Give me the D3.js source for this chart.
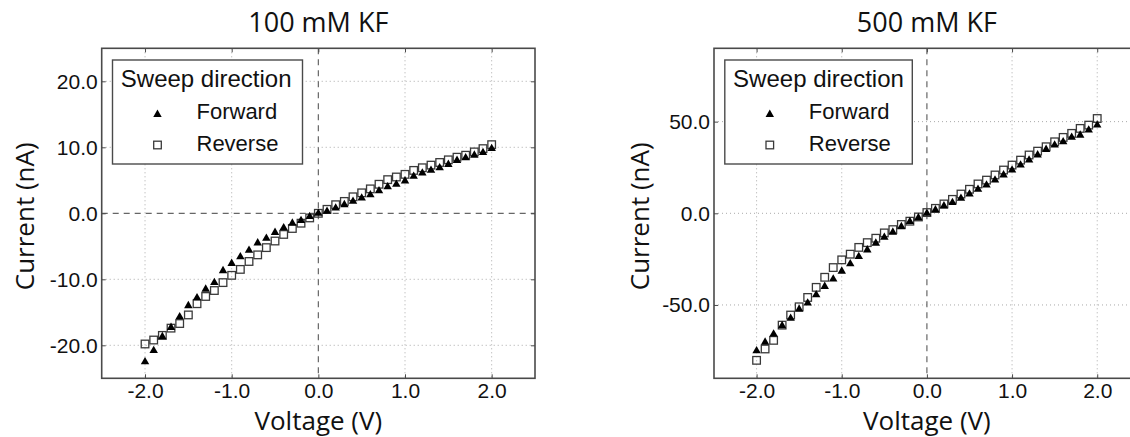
<!DOCTYPE html>
<html>
<head>
<meta charset="utf-8">
<script src="https://cdn.jsdelivr.net/npm/d3@7"></script>
<style>
  html, body { margin: 0; padding: 0; background: #fff; }
  svg { display: block; }
</style>
</head>
<body>
<svg id="chart" width="1130" height="437"></svg>
<script>
// Sweep voltages (V)
const voltage = [-2.0,-1.9,-1.8,-1.7,-1.6,-1.5,-1.4,-1.3,-1.2,-1.1,-1.0,-0.9,-0.8,-0.7,-0.6,-0.5,-0.4,-0.3,-0.2,-0.1,
                 0.0,0.1,0.2,0.3,0.4,0.5,0.6,0.7,0.8,0.9,1.0,1.1,1.2,1.3,1.4,1.5,1.6,1.7,1.8,1.9,2.0];

// 100 mM KF current (nA)
const forward100 = [-22.5,-20.8,-18.7,-17.3,-15.7,-14.0,-12.8,-11.5,-10.5,-8.7,-7.6,-6.6,-5.6,-4.5,-3.8,-2.9,-2.2,-1.5,-1.1,-0.5,
                    0.0,0.3,0.8,1.3,1.8,2.3,2.8,3.4,4.0,4.4,4.9,5.6,6.1,6.5,6.9,7.4,8.0,8.4,8.8,9.2,9.8];
const reverse100 = [-19.8,-19.2,-18.5,-17.4,-16.7,-15.4,-13.7,-12.6,-11.7,-10.5,-9.4,-8.5,-7.3,-6.3,-5.2,-4.2,-3.2,-2.3,-1.5,-0.7,
                    0.0,0.6,1.3,1.8,2.5,3.1,3.7,4.4,5.1,5.5,5.9,6.5,6.9,7.3,7.7,8.1,8.5,8.8,9.3,9.8,10.4];

// 500 mM KF current (nA)
const forward500 = [-75.0,-70.3,-65.9,-61.3,-57.3,-52.3,-49.0,-44.5,-39.9,-35.9,-31.6,-27.6,-23.6,-20.0,-16.3,-13.1,-10.3,-7.3,-4.5,-2.4,
                    0.0,1.8,4.0,5.8,8.2,10.5,13.1,15.4,18.1,20.9,23.6,26.3,29.0,31.8,34.8,37.2,39.0,41.4,42.6,45.4,48.1];
const reverse500 = [-80.2,-74.0,-69.3,-61.0,-55.5,-51.0,-45.9,-40.4,-34.9,-29.6,-25.4,-22.3,-18.6,-16.0,-13.6,-10.7,-8.9,-6.1,-4.3,-2.0,
                    0.4,2.7,5.1,7.6,10.5,13.1,16.0,18.1,20.9,23.6,26.3,29.0,31.8,33.9,36.3,39.0,41.4,43.6,46.3,48.1,51.7];

// Axis ticks
const xTicks = [-2.0, -1.0, 0.0, 1.0, 2.0];
const yTicks100 = [-20.0, -10.0, 0.0, 10.0, 20.0];
const yTicks500 = [-50.0, 0.0, 50.0];

const titles = ["100 mM KF", "500 mM KF"];
const legendTitle = "Sweep direction";
const seriesNames = ["Forward", "Reverse"];

const svg = d3.select("#chart");
const fmt = d => d.toFixed(1);
const TICK_FONT = "'Liberation Sans', Arial, sans-serif";
const LABEL_FONT = "'Open Sans', 'Noto Sans', sans-serif";
const FRAME = "#4a4a4a";

function panel(cfg) {
  const x = d3.scaleLinear().domain([-2.5, 2.5]).range([cfg.left, cfg.right]);
  const y = d3.scaleLinear().domain(cfg.yDomain).range([cfg.bottom, cfg.top]);
  const g = svg.append("g");

  // grid
  const grid = g.append("g");
  grid.selectAll("line.gx").data(xTicks.filter(t => t !== 0)).join("line")
    .attr("x1", d => x(d)).attr("x2", d => x(d))
    .attr("y1", cfg.top).attr("y2", cfg.bottom)
    .attr("stroke", "#aaa").attr("stroke-width", 1).attr("stroke-dasharray", "1,3");
  grid.selectAll("line.gy").data(cfg.yTicks.filter(t => t !== 0 || !cfg.dashedY0)).join("line")
    .attr("x1", cfg.left).attr("x2", cfg.right)
    .attr("y1", d => y(d)).attr("y2", d => y(d))
    .attr("stroke", "#aaa").attr("stroke-width", 1).attr("stroke-dasharray", "1,3");

  // zero reference lines
  g.append("line")
    .attr("x1", x(0)).attr("x2", x(0)).attr("y1", cfg.top).attr("y2", cfg.bottom)
    .attr("stroke", "#666").attr("stroke-width", 1.2).attr("stroke-dasharray", "6,5");
  if (cfg.dashedY0) {
    g.append("line")
      .attr("x1", cfg.left).attr("x2", cfg.right).attr("y1", y(0)).attr("y2", y(0))
      .attr("stroke", "#666").attr("stroke-width", 1.2).attr("stroke-dasharray", "6,5");
  }

  // axes with inward ticks
  const styleAxis = sel => {
    sel.select(".domain").remove();
    sel.selectAll(".tick line").attr("stroke", FRAME).attr("stroke-width", 1);
    sel.selectAll(".tick text").attr("fill", "#111")
      .style("font-family", TICK_FONT).style("font-size", "21px");
  };
  g.append("g").attr("transform", `translate(0,${cfg.bottom})`)
    .call(d3.axisBottom(x).tickValues(xTicks).tickFormat(fmt).tickSizeInner(-4).tickSizeOuter(0).tickPadding(5))
    .call(styleAxis);
  g.append("g").attr("transform", `translate(0,${cfg.top})`)
    .call(d3.axisTop(x).tickValues(xTicks).tickFormat("").tickSizeInner(-4).tickSizeOuter(0))
    .call(styleAxis);
  g.append("g").attr("transform", `translate(${cfg.left},0)`)
    .call(d3.axisLeft(y).tickValues(cfg.yTicks).tickFormat(fmt).tickSizeInner(-4).tickSizeOuter(0).tickPadding(4))
    .call(styleAxis);
  g.append("g").attr("transform", `translate(${cfg.right},0)`)
    .call(d3.axisRight(y).tickValues(cfg.yTicks).tickFormat("").tickSizeInner(-4).tickSizeOuter(0))
    .call(styleAxis);

  // frame
  g.append("rect")
    .attr("x", cfg.left).attr("y", cfg.top)
    .attr("width", cfg.right - cfg.left).attr("height", cfg.bottom - cfg.top)
    .attr("fill", "none").attr("stroke", FRAME).attr("stroke-width", 1.6);

  // data: reverse (open squares), forward (filled triangles)
  const sq = 7.6;
  g.append("g").selectAll("rect").data(voltage.map((v, i) => [v, cfg.rev[i]])).join("rect")
    .attr("x", d => x(d[0]) - sq / 2).attr("y", d => y(d[1]) - sq / 2)
    .attr("width", sq).attr("height", sq)
    .attr("fill", "none").attr("stroke", "#3a3a3a").attr("stroke-width", 1.3);
  const tri = d3.symbol(d3.symbolTriangle, 31);
  g.append("g").selectAll("path").data(voltage.map((v, i) => [v, cfg.fwd[i]])).join("path")
    .attr("d", tri)
    .attr("transform", d => `translate(${x(d[0])},${y(d[1])})`)
    .attr("fill", "#000");

  // legend
  const lx = cfg.left + 10.8, ly = 60;
  const lg = g.append("g");
  lg.append("rect").attr("x", lx).attr("y", ly).attr("width", cfg.legendW).attr("height", 104)
    .attr("fill", "#fff").attr("stroke", FRAME).attr("stroke-width", 1.4);
  lg.append("text").attr("x", lx + 8.3).attr("y", ly + 26.5)
    .style("font-family", TICK_FONT).style("font-size", "24px").attr("fill", "#111")
    .text(legendTitle);
  lg.append("path").attr("d", tri).attr("transform", `translate(${lx + 45},${ly + 54.5})`).attr("fill", "#000");
  lg.append("rect").attr("x", lx + 45 - sq / 2).attr("y", ly + 85 - sq / 2).attr("width", sq).attr("height", sq)
    .attr("fill", "none").attr("stroke", "#3a3a3a").attr("stroke-width", 1.3);
  lg.selectAll("text.entry").data(seriesNames).join("text")
    .attr("x", lx + 84).attr("y", (d, i) => ly + 59 + i * 31.5)
    .style("font-family", TICK_FONT).style("font-size", "22px").attr("fill", "#111")
    .text(d => d);

  // titles and axis labels
  g.append("text").attr("x", x(0)).attr("y", 32).attr("text-anchor", "middle")
    .style("font-family", LABEL_FONT).style("font-size", "27px").attr("fill", "#111")
    .text(cfg.title);
  g.append("text").attr("x", x(0)).attr("y", 430).attr("text-anchor", "middle")
    .style("font-family", LABEL_FONT).style("font-size", "26px").attr("fill", "#111")
    .text("Voltage (V)");
  g.append("text")
    .attr("transform", `translate(${cfg.ylabX},${(cfg.top + cfg.bottom) / 2 + 3}) rotate(-90)`)
    .attr("text-anchor", "middle")
    .style("font-family", LABEL_FONT).style("font-size", "26px").attr("fill", "#111")
    .text("Current (nA)");
}

panel({
  left: 101.7, right: 535, top: 48.3, bottom: 378.3,
  yDomain: [-25, 25], yTicks: yTicks100, dashedY0: true,
  fwd: forward100, rev: reverse100, title: titles[0],
  legendW: 190, ylabX: 34
});
panel({
  left: 714, right: 1139.8, top: 48.3, bottom: 378.3,
  yDomain: [-90, 90], yTicks: yTicks500, dashedY0: false,
  fwd: forward500, rev: reverse500, title: titles[1],
  legendW: 187.5, ylabX: 649
});
</script>
</body>
</html>
